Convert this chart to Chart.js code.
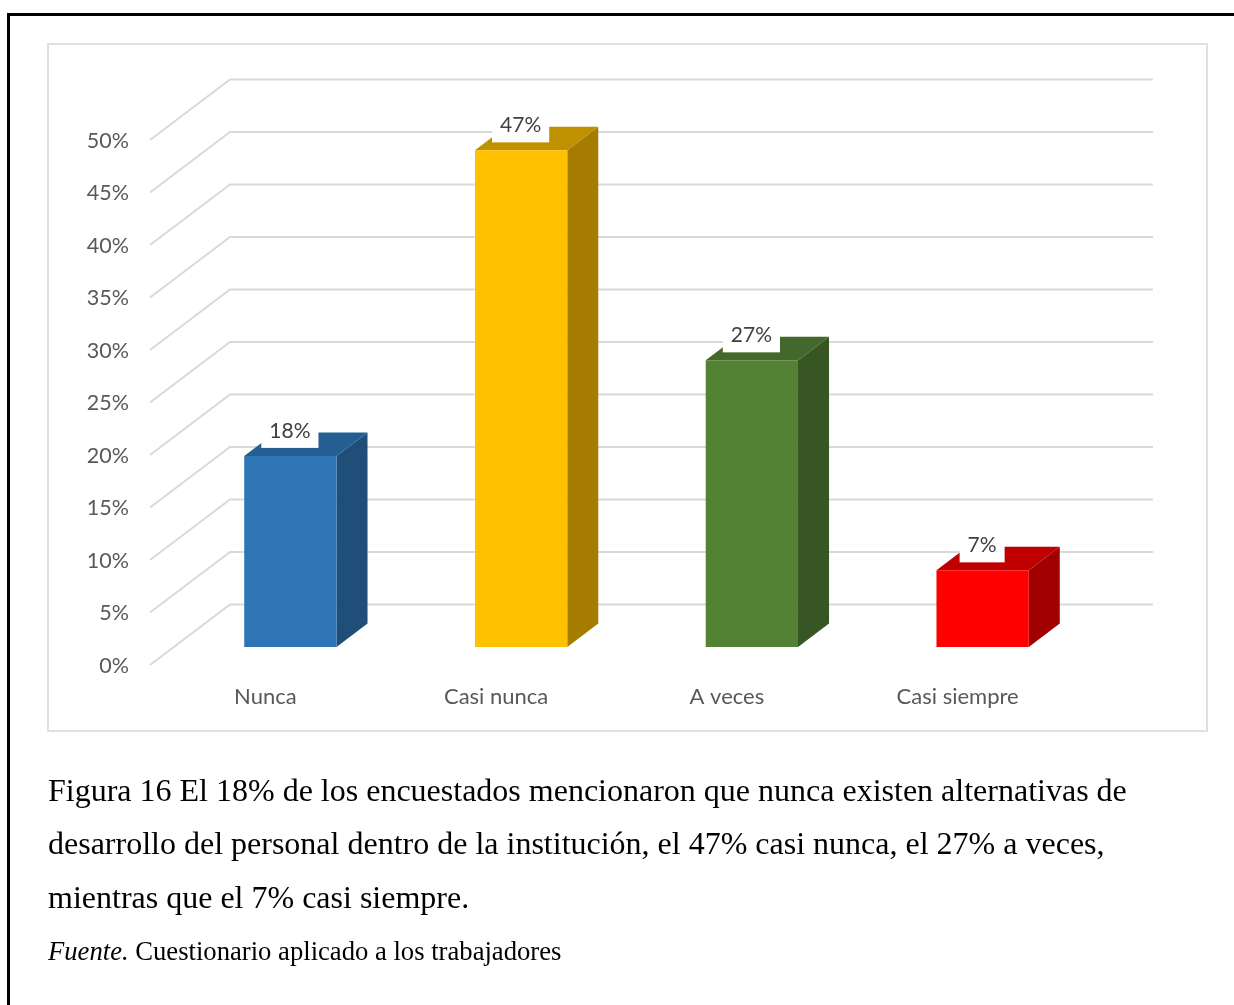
<!DOCTYPE html>
<html lang="es">
<head>
<meta charset="utf-8">
<title>Figura 16</title>
<script src="https://cdn.jsdelivr.net/npm/chart.js@4"></script>
<style>
html,body{margin:0;padding:0;background:#fff;width:1234px;height:1005px;overflow:hidden}
#edgeTop{position:absolute;left:7px;top:13px;width:1227px;height:3px;background:#000}
#edgeLeft{position:absolute;left:7px;top:13px;width:3px;height:992px;background:#000}
#frame{position:absolute;left:47px;top:43px;width:1157px;height:685px;border:2px solid #e0e0e0}
canvas{position:absolute;left:0;top:0}
.cap{position:absolute;left:48px;font-family:"Liberation Serif",serif;color:#000;white-space:nowrap;line-height:1}
</style>
</head>
<body>
<div id="edgeTop"></div><div id="edgeLeft"></div><div id="frame"></div>
<canvas id="c" width="1234" height="1005"></canvas>
<div class="cap" style="top:774px;font-size:32px">Figura 16 El 18% de los encuestados mencionaron que nunca existen alternativas de</div>
<div class="cap" style="top:827px;font-size:32px">desarrollo del personal dentro de la institución, el 47% casi nunca, el 27% a veces,</div>
<div class="cap" style="top:881px;font-size:32px">mientras que el 7% casi siempre.</div>
<div class="cap" style="top:938px;font-size:26.65px"><i>Fuente.</i> Cuestionario aplicado a los trabajadores</div>
<script>
const categories = ["Nunca", "Casi nunca", "A veces", "Casi siempre"];
const values = [18.2, 47.3, 27.3, 7.3];
const tickStep = 5;
const axisMax = 50;
const faceColors = ["#2E75B6", "#FFC000", "#548235", "#FF0000"];
const topColors = ["#255E91", "#BF9000", "#43682B", "#C00000"];
const sideColors = ["#1F4E79", "#A67C00", "#375623", "#A00000"];

const FONT = "Lato, Carlito, sans-serif";
const WALL_DX = 80, WALL_DY = 60.5;
const BAR_DX = 25, BAR_DY = 18;
const DEPTH_DX = 31, DEPTH_DY = 23.5;

const wallPlugin = {
  id: "wall",
  beforeDatasetsDraw(chart) {
    const {ctx, chartArea: a, scales: {y}} = chart;
    ctx.save();
    ctx.strokeStyle = "#D9D9D9";
    ctx.lineWidth = 2;
    ctx.lineJoin = "miter";
    y.ticks.forEach(t => {
      const py = y.getPixelForValue(t.value);
      ctx.beginPath();
      ctx.moveTo(a.left, py);
      ctx.lineTo(a.left + WALL_DX, py - WALL_DY);
      ctx.lineTo(a.right + WALL_DX, py - WALL_DY);
      ctx.stroke();
    });
    ctx.restore();
    // 3D faces behind the library's bars
    const meta = chart.getDatasetMeta(0);
    ctx.save();
    ctx.translate(BAR_DX, -BAR_DY);
    meta.data.forEach((b, i) => {
      const l = b.x - b.width / 2, r = b.x + b.width / 2;
      ctx.fillStyle = sideColors[i];
      ctx.beginPath();
      ctx.moveTo(r, b.y);
      ctx.lineTo(r + DEPTH_DX, b.y - DEPTH_DY);
      ctx.lineTo(r + DEPTH_DX, b.base - DEPTH_DY);
      ctx.lineTo(r, b.base);
      ctx.closePath();
      ctx.fill();
      ctx.fillStyle = topColors[i];
      ctx.beginPath();
      ctx.moveTo(l, b.y);
      ctx.lineTo(l + DEPTH_DX, b.y - DEPTH_DY);
      ctx.lineTo(r + DEPTH_DX, b.y - DEPTH_DY);
      ctx.lineTo(r, b.y);
      ctx.closePath();
      ctx.fill();
    });
    ctx.restore();
    ctx.save();
    ctx.translate(BAR_DX, -BAR_DY);
  },
  afterDatasetsDraw(chart) {
    const {ctx} = chart;
    ctx.restore();
    const meta = chart.getDatasetMeta(0);
    ctx.save();
    ctx.font = "21px " + FONT;
    ctx.textAlign = "center";
    ctx.textBaseline = "middle";
    meta.data.forEach((b, i) => {
      const txt = Math.round(values[i]) + "%";
      const w = ctx.measureText(txt).width + 16;
      const cx = b.x + BAR_DX - 0.5;
      const bottom = b.y - BAR_DY - 8;
      ctx.fillStyle = "#fff";
      ctx.fillRect(cx - w / 2, bottom - 30, w, 30);
      ctx.fillStyle = "#404040";
      ctx.fillText(txt, cx, bottom - 17);
    });
    ctx.restore();
  }
};

new Chart(document.getElementById("c"), {
  type: "bar",
  data: {
    labels: categories,
    datasets: [{
      data: values,
      backgroundColor: faceColors,
      borderWidth: 0,
      barPercentage: 1,
      categoryPercentage: 0.4,
      clip: false
    }]
  },
  plugins: [wallPlugin],
  options: {
    responsive: false,
    animation: false,
    layout: {padding: {left: 50, right: 161, top: 140, bottom: 280}},
    plugins: {legend: {display: false}, title: {display: false}, tooltip: {enabled: false}},
    scales: {
      x: {
        type: "category",
        grid: {display: false, drawTicks: false},
        border: {display: false},
        afterFit(s) { s.height = 60; },
        ticks: {color: "#595959", font: {family: FONT, size: 22}, padding: 19, maxRotation: 0}
      },
      y: {
        min: 0,
        max: axisMax,
        grid: {display: false, drawTicks: false},
        border: {display: false},
        afterFit(s) { s.width = 100; },
        ticks: {
          stepSize: tickStep,
          color: "#595959",
          font: {family: FONT, size: 21.5},
          padding: 21,
          labelOffset: 1,
          callback: v => v + "%"
        }
      }
    }
  }
});
</script>
</body>
</html>
